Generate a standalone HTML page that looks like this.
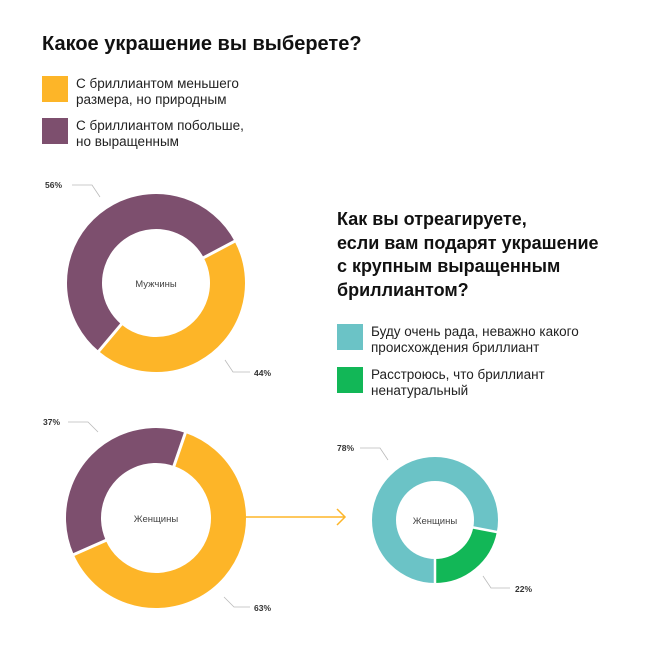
<!DOCTYPE html>
<html><head><meta charset="utf-8"><style>
html,body{margin:0;padding:0;background:#fff;}
body{width:664px;height:656px;overflow:hidden;font-family:"Liberation Sans",sans-serif;}
</style></head><body>
<svg width="664" height="656" viewBox="0 0 664 656" xmlns="http://www.w3.org/2000/svg" font-family="Liberation Sans, sans-serif">
<rect width="664" height="656" fill="#fff"/>
<text x="42" y="50" font-size="20" font-weight="bold" fill="#111">Какое украшение вы выберете?</text>
<rect x="42" y="76" width="26" height="26" fill="#FDB528"/>
<text x="76" y="88" font-size="13.5" fill="#222">С бриллиантом меньшего</text>
<text x="76" y="104" font-size="13.5" fill="#222">размера, но природным</text>
<rect x="42" y="118" width="26" height="26" fill="#7D4F6E"/>
<text x="76" y="130" font-size="13.5" fill="#222">С бриллиантом побольше,</text>
<text x="76" y="146" font-size="13.5" fill="#222">но выращенным</text>

<g font-size="18" font-weight="bold" fill="#111">
<text x="337" y="225">Как вы отреагируете,</text>
<text x="337" y="249">если вам подарят украшение</text>
<text x="337" y="272">с крупным выращенным</text>
<text x="337" y="296">бриллиантом?</text>
</g>
<rect x="337" y="324" width="26" height="26" fill="#6BC3C6"/>
<text x="371" y="336" font-size="13.5" fill="#222">Буду очень рада, неважно какого</text>
<text x="371" y="352" font-size="13.5" fill="#222">происхождения бриллиант</text>
<rect x="337" y="367" width="26" height="26" fill="#12B757"/>
<text x="371" y="379" font-size="13.5" fill="#222">Расстроюсь, что бриллиант</text>
<text x="371" y="395" font-size="13.5" fill="#222">ненатуральный</text>

<g transform="translate(156,283)" fill="none" stroke-width="35">
<circle r="71.5" stroke="#FDB528" stroke-dasharray="197.2 600" transform="rotate(-28)"/>
<circle r="71.5" stroke="#7D4F6E" stroke-dasharray="252.5 600" transform="rotate(130)"/>
</g>
<line x1="201.9" y1="258.6" x2="236.4" y2="240.3" stroke="#fff" stroke-width="3"/>
<line x1="122.6" y1="322.8" x2="97.5" y2="352.7" stroke="#fff" stroke-width="3"/>
<text x="156" y="287" font-size="9.5" fill="#444" text-anchor="middle">Мужчины</text>

<g transform="translate(156,518)" fill="none" stroke-width="35">
<circle r="72.5" stroke="#FDB528" stroke-dasharray="287.2 600" transform="rotate(-71)"/>
<circle r="72.5" stroke="#7D4F6E" stroke-dasharray="168.5 600" transform="rotate(156)"/>
</g>
<line x1="173.3" y1="467.9" x2="186" y2="431" stroke="#fff" stroke-width="3"/>
<line x1="107.6" y1="539.6" x2="71.9" y2="555.4" stroke="#fff" stroke-width="3"/>
<text x="156" y="522" font-size="9.5" fill="#444" text-anchor="middle">Женщины</text>

<g transform="translate(435,520)" fill="none" stroke-width="24">
<circle r="51" stroke="#6BC3C6" stroke-dasharray="250.1 600" transform="rotate(90)"/>
<circle r="51" stroke="#12B757" stroke-dasharray="70.3 600" transform="rotate(11)"/>
</g>
<line x1="435" y1="557" x2="435" y2="585" stroke="#fff" stroke-width="2.5"/>
<line x1="471.3" y1="527.1" x2="498.8" y2="532.4" stroke="#fff" stroke-width="2.5"/>
<text x="435" y="524" font-size="9.5" fill="#444" text-anchor="middle">Женщины</text>

<line x1="245" y1="517" x2="345" y2="517" stroke="#FDB528" stroke-width="1.5"/>
<polyline points="337,509 345,517 337,525" fill="none" stroke="#FDB528" stroke-width="1.5"/>

<g fill="none" stroke="#bbb" stroke-width="0.8">
<polyline points="72,185 92,185 100,197"/>
<polyline points="225,360 233,372 250,372"/>
<polyline points="68,422 88,422 98,432"/>
<polyline points="224,597 234,607 250,607"/>
<polyline points="360,448 380,448 388,460"/>
<polyline points="483,576 491,588 510,588"/>
</g>
<g font-size="8.5" font-weight="bold" fill="#333">
<text x="45" y="188">56%</text>
<text x="254" y="376">44%</text>
<text x="43" y="425">37%</text>
<text x="254" y="611">63%</text>
<text x="337" y="451">78%</text>
<text x="515" y="592">22%</text>
</g>
</svg>
</body></html>
